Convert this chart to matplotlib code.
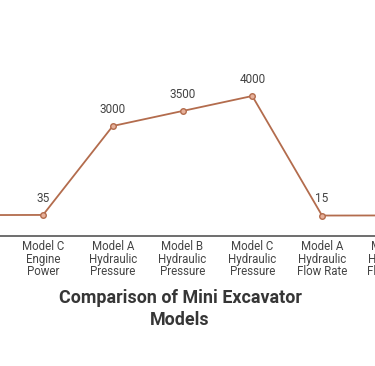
import matplotlib
matplotlib.use("Agg")
import matplotlib.pyplot as plt

plt.rcParams['font.family'] = ['Roboto', 'DejaVu Sans']

categories = [
    "Model B\nEngine\nPower",
    "Model C\nEngine\nPower",
    "Model A\nHydraulic\nPressure",
    "Model B\nHydraulic\nPressure",
    "Model C\nHydraulic\nPressure",
    "Model A\nHydraulic\nFlow Rate",
    "Model B\nHydraulic\nFlow Rate",
]
values = [30, 35, 3000, 3500, 4000, 15, 18]
title = "Comparison of Mini Excavator\nModels"

W, H = 375, 366
fig = plt.figure(figsize=(W / 100, H / 100), dpi=100)
# axes extends past the figure edges (the reference is a cropped view)
left_px, width_px = -61.6, 488.25
bottom_px, top_px = 236, 30  # from top
ax = fig.add_axes([left_px / W, (H - bottom_px) / H, width_px / W, (bottom_px - top_px) / H])

x = list(range(len(categories)))
line_color = "#b36c4d"
ax.plot(x, values, color=line_color, lw=1.3, marker="o", ms=4.0,
        mfc="#e6b09a", mec=line_color, mew=1.0, zorder=3)
for xi, v in zip(x, values):
    ax.annotate(str(v), (xi, v), xytext=(0, 7.5), textcoords="offset points",
                ha="center", va="bottom", fontsize=8.5, color="#444444")

ax.set_xlim(-0.5, len(categories) - 0.5)
ax.set_ylim(-667, (216 - top_px) / 30 * 1000)
ax.set_xticks(x)
ax.set_xticklabels(categories, fontsize=8.3, color="#444444", linespacing=0.95)
ax.tick_params(axis="x", length=0, pad=3.0)
ax.set_yticks([])
for s in ["top", "left", "right"]:
    ax.spines[s].set_visible(False)
ax.spines["bottom"].set_color("#555555")
ax.spines["bottom"].set_linewidth(1.2)

fig.text(180 / W, 1 - 309 / H, title, ha="center", va="center", fontsize=12.9,
         fontweight="bold", color="#363636", linespacing=1.27)

fig.savefig("out.png", dpi=100, facecolor="white")
